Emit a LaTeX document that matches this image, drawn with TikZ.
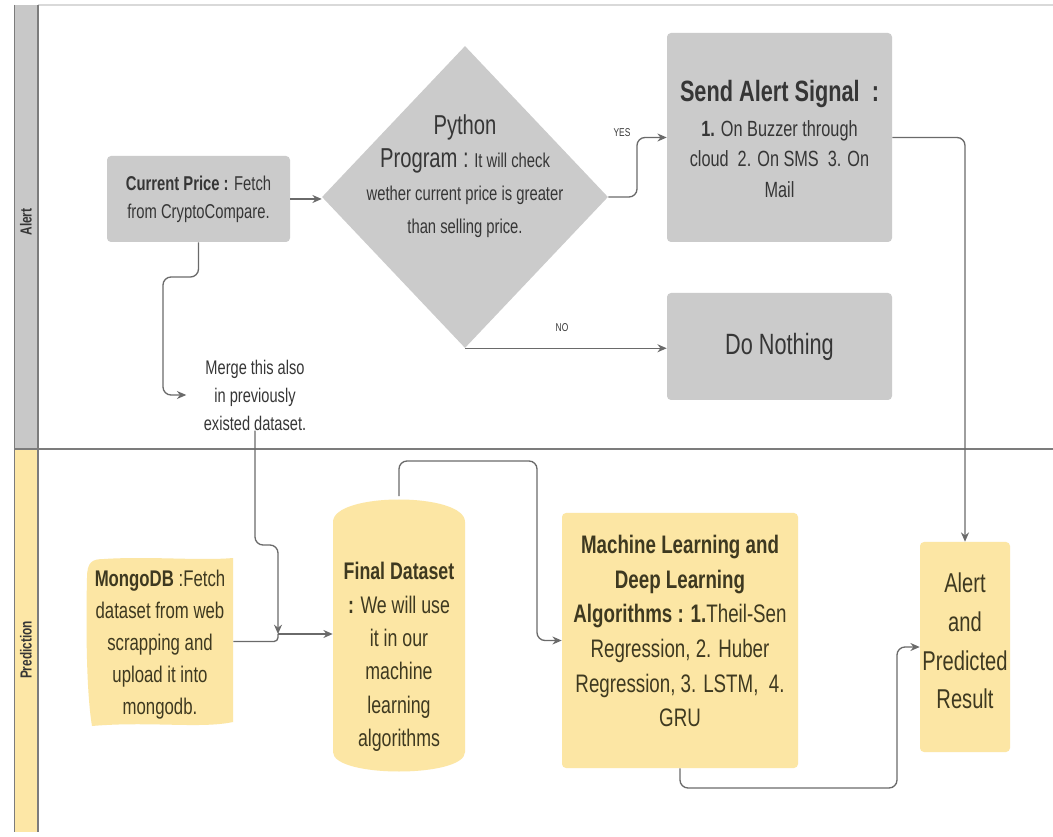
\documentclass[tikz,border=0pt]{standalone}
\usepackage{fontspec}
\setmainfont{Liberation Sans}[FakeStretch=0.74]
\usetikzlibrary{shapes.geometric,arrows.meta,calc}
\definecolor{boxgray}{HTML}{CBCBCB}
\definecolor{boxyel}{HTML}{FCE6A4}
\definecolor{txtgray}{HTML}{363636}
\definecolor{txtyel}{HTML}{3E3920}
\definecolor{linec}{HTML}{6A6A6A}
\definecolor{lanegray}{HTML}{C8C8C8}
\definecolor{laneyel}{HTML}{FDE7A6}
\definecolor{laneline}{HTML}{7C7C7C}
\newcommand\myfs[2]{\fontsize{#1}{#2}\selectfont}
\tikzset{
  graybox/.style={fill=boxgray, rounded corners=3pt, text=txtgray, align=center, inner sep=0pt},
  yelbox/.style={fill=boxyel, rounded corners=3pt, text=txtyel, align=center, inner sep=0pt},
  ghost/.style={inner sep=0pt, draw=none},
  txt/.style={align=center, inner sep=0pt},
  conn/.style={draw=linec, line width=1pt, rounded corners=6pt, -{Stealth[length=7pt,width=6pt]}},
  lane/.style={draw=laneline, line width=0.6pt},
  lanelbl/.style={rotate=90, font=\bfseries\myfs{12}{14}, text=txtgray},
  small/.style={font=\myfs{8.5}{10}, text=txtgray, inner sep=1pt}
}
\begin{document}
\begin{tikzpicture}[x=0.75pt,y=-0.75pt]
\useasboundingbox (0,0) rectangle (1053,837);
\fill[white] (0,0) rectangle (1053,837);
% swimlanes
\draw[draw=gray!30, line width=0.8pt] (38,5) -- (1053,5);
\fill[lanegray] (14,5) rectangle (38,449);
\fill[laneyel] (14,449) rectangle (38,832);
\draw[lane] (14,5) -- (14,832);
\draw[draw=laneline, line width=1.4pt] (38,5) -- (38,832);
\draw[draw=laneline, line width=2.2pt] (14,449) -- (1053,449);
\node[lanelbl] (lalert) at (26,222) {Alert};
\node[lanelbl] (lpred) at (26,650) {Prediction};

% Alert lane nodes
\node[graybox, minimum width=137.25pt, minimum height=64.5pt, font=\myfs{15}{21}] (cp) at (198.5,199)
  {\textbf{Current Price :} Fetch\\ from CryptoCompare.};
\node[diamond, fill=boxgray, minimum width=214.5pt, minimum height=226.5pt, inner sep=0pt] (dia) at (465,197) {};
\node[txt, text=txtgray, font=\myfs{15}{24.75}] (diaT) at (465,176)
  {{\myfs{20.5}{24.75}Python}\\ {\myfs{20.5}{24.75}Program :} It will check\\ wether current price is greater\\ than selling price.};
\node[graybox, minimum width=168.75pt, minimum height=156.75pt] (send) at (779.5,137.5) {};
\node[txt, text=txtgray, font=\myfs{16.5}{23}] (sendT) at (779.5,139)
  {{\bfseries\myfs{22}{23}Send Alert Signal~~:}\\[3pt] \textbf{1.} On Buzzer through\\ cloud~~2. On SMS~~3. On\\ Mail};
\node[graybox, minimum width=168.75pt, minimum height=80.25pt, font=\myfs{22}{26}] (dn) at (779.5,346.5) {Do Nothing};
\node[txt, text=txtgray, font=\myfs{14.8}{21}, inner xsep=13pt] (merge) at (255,395)
  {Merge this also\\ in previously\\ existed dataset.};
\node[small] (yes) at (622,133) {YES};
\node[small] (no) at (562,328) {NO};

% Prediction lane shapes
\fill[boxyel] (87,578) .. controls (87,562) and (92,559) .. (104,559)
  .. controls (150,556) and (200,561) .. (233,558) -- (233,722)
  .. controls (200,729) and (150,721) .. (92,726) .. controls (86,690) and (86,620) .. (87,578) -- cycle;
\node[ghost, minimum width=109.5pt, minimum height=125.25pt] (mongo) at (160,641.5) {};
\node[txt, text=txtyel, font=\myfs{17}{24}] (mongoT) at (160,645)
  {\textbf{MongoDB} :Fetch\\ dataset from web\\ scrapping and\\ upload it into\\ mongodb.};

\fill[boxyel] (333,522) .. controls (333,492) and (465,492) .. (465,522) -- (465,752)
  .. controls (465,778) and (333,778) .. (333,752) -- cycle;
\node[ghost, minimum width=99pt, minimum height=206.25pt] (fd) at (399,634) {};
\node[txt, text=txtyel, font=\myfs{18}{25}] (fdT) at (399,657)
  {\textbf{Final Dataset}\\ \textbf{:} We will use\\ it in our\\ machine\\ learning\\ algorithms};

\node[yelbox, minimum width=177pt, minimum height=191.25pt] (ml) at (680,640.5) {};
\node[txt, text=txtyel, font=\myfs{19}{26}] (mlT) at (680,631)
  {\textbf{Machine Learning and}\\ \textbf{Deep Learning}\\ \textbf{Algorithms : 1.}Theil-Sen\\ Regression, 2. Huber\\ Regression, 3. LSTM,~~4.\\ GRU};

\node[yelbox, minimum width=67.5pt, minimum height=157.5pt] (ap) at (965,647) {};
\node[txt, text=txtyel, font=\myfs{20.4}{29}] (apT) at (965,641) {Alert\\ and\\ Predicted\\ Result};

% connector helper points
\coordinate (yb) at (637,197);
\coordinate (m1) at (163,277);
\coordinate (mj) at (278,545);
\coordinate (j) at (278,634);
\coordinate (k) at (537,461);
\coordinate (b) at (897,788);

% connectors
\draw[conn] (cp.east) -- (cp.east -| dia.west);
\draw[conn] (dia.east) -- (yb) |- (send.west);
\draw[conn] (dia.south) -- (dia.south -| dn.west);
\draw[conn] (send.east) -| (ap.north);
\draw[conn] (cp.south) |- (m1) |- (merge.west);
\draw[conn] (merge.south) |- (mj) -- (j);
\draw[draw=linec, line width=1pt, rounded corners=3pt] (mongo.east) -| (j);
\draw[conn] (j) -- (fd.west);
\draw[conn] (fd.north) |- (k) |- (ml.west);
\draw[conn] (ml.south) |- (b) |- (ap.west);
\end{tikzpicture}
\end{document}
